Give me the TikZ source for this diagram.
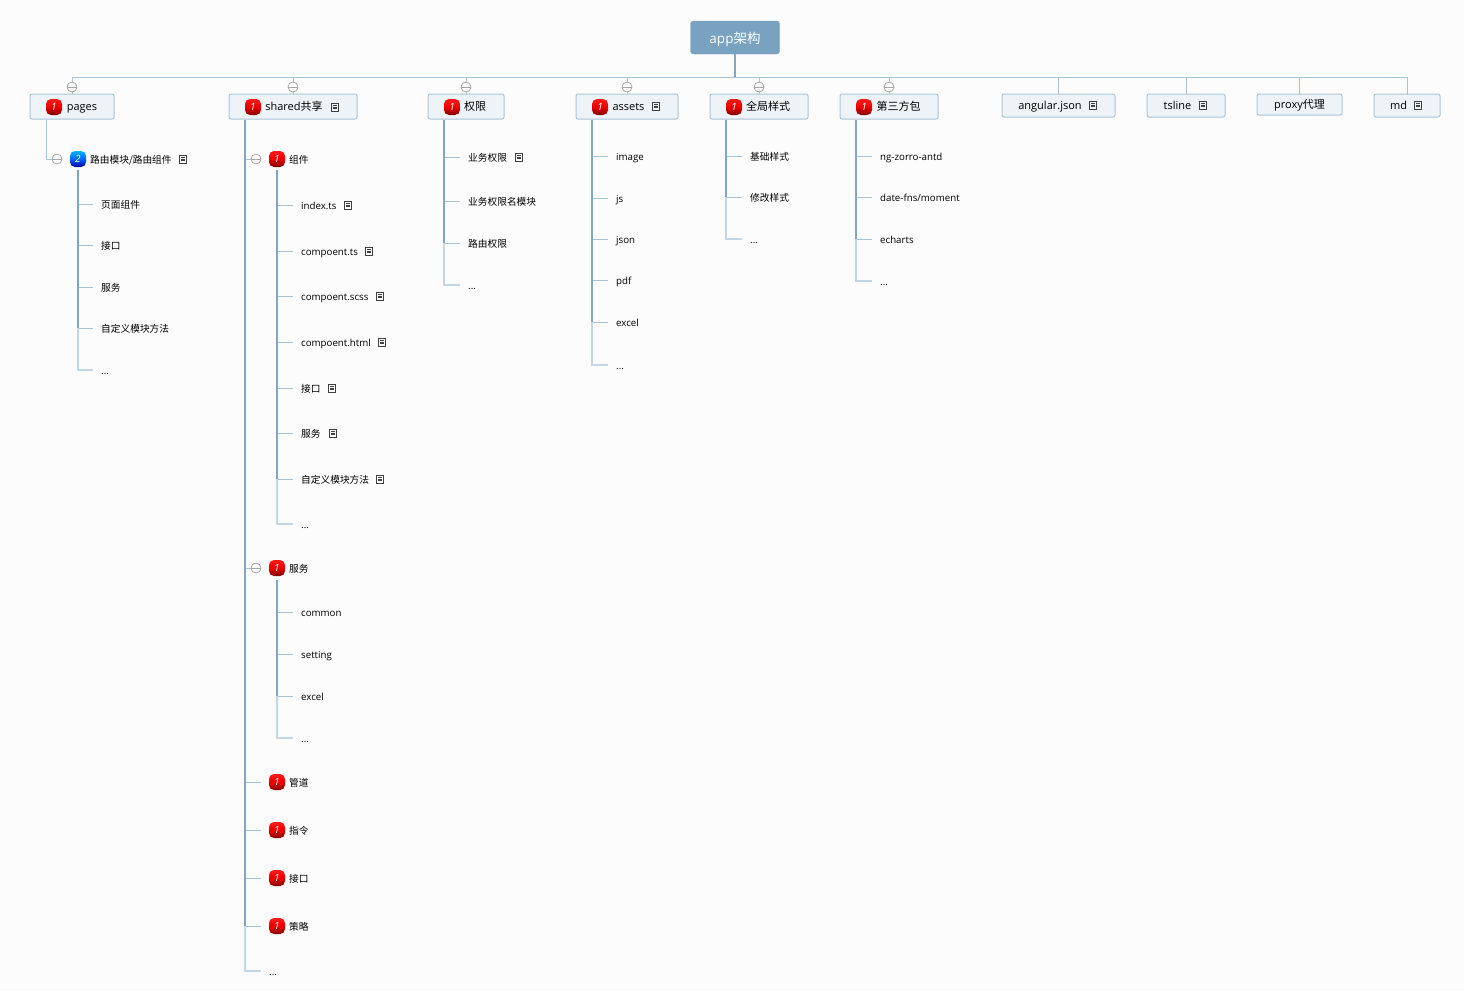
\documentclass[tikz,border=0pt]{standalone}
\usepackage{fontspec}
\setmainfont{Open Sans}
\newfontfamily\cjk{Noto Sans CJK SC}
\newcommand{\zh}[1]{{\cjk #1}}
\newcommand{\etc}{...}
\definecolor{barblue}{HTML}{7FA6C2}
\definecolor{stubblue}{HTML}{A9C3D6}
\definecolor{tailblue}{HTML}{C3D6E3}
\definecolor{rootblue}{HTML}{78A2BF}
\definecolor{boxfill}{HTML}{EEF3F7}
\definecolor{boxline}{HTML}{A9C5DA}
\tikzset{
  rootbox/.style={draw=rootblue, fill=rootblue, rounded corners=3pt, text=white, minimum width=89pt, minimum height=33pt, inner sep=0pt, text height=12pt, text depth=.5pt, font=\fontsize{13.5}{16}\selectfont},
  topic/.style={draw=boxline, line width=1pt, fill=boxfill, rounded corners=2pt, anchor=north west, inner sep=0pt, text height=8pt, text depth=1pt, font=\fontsize{11}{13}\selectfont},
  leaf/.style={anchor=west, inner xsep=8pt, inner ysep=1pt, text height=9pt, text depth=1pt, font=\fontsize{9.7}{12}\selectfont},
  sub/.style={anchor=west, inner sep=0pt, text height=9pt, text depth=1pt, font=\fontsize{9.7}{12}\selectfont},
  stub/.style={draw=stubblue, line width=1pt},
  trunk/.style={draw=barblue, line width=1.5pt},
  tail/.style={draw=tailblue, line width=1.5pt},
  fold/.style={circle, draw=gray!70, fill=white, line width=.8pt, minimum size=10pt, inner sep=0pt, path picture={\draw[gray!70, line width=.8pt] (path picture bounding box.west) -- (path picture bounding box.east);}},
  badge/.style={rounded corners=5pt, minimum size=16pt, inner sep=0pt, text=white, font=\fontsize{10}{10}\selectfont\itshape},
  redbadge/.style={badge, top color=red!90!white, bottom color=red!50!black, middle color=red!92!black},
  bluebadge/.style={badge, top color=blue!30!cyan, bottom color=blue!60!black, middle color=blue!60!cyan},
  notemark/.pic={
    \draw[black!75, line width=.9pt] (-3.5,-4) rectangle (3.5,4);
    \foreach \k in {-1.7,0,1.7} \draw[black!75, line width=.6pt] (-2,\k) -- (2,\k);
  }
}
\begin{document}
\begin{tikzpicture}[x=1pt, y=-1pt]
    \useasboundingbox[fill=white!99!black] (0,0) rectangle (1464,991);

    % Root and first level
    \node[rootbox] (root) at (735,37.5) {app\zh{架构}};
    \coordinate (bar) at (735,77);
    \foreach \nm/\x/\w/\h/\pad/\txt in {
      pages/29.5/84/25/20/pages, shared/228.5/128/25/2/shared\zh{共享}, auth/427.5/76/25/18/\zh{权限},
      assets/575.5/102/25/3/assets, style/709.5/98/25/18/\zh{全局样式}, third/839.5/98/25/19/\zh{第三方包},
      angular/1001.5/113/23/-17/angular.json, tsline/1146.5/78/23/-17/tsline,
      proxy/1256.5/85/21/0/proxy\zh{代理}, md/1373.5/66/23/-17/md}
    {
      \node[topic, minimum width=\w pt, minimum height=\h pt] (\nm) at (\x,93.5) {\hspace*{\pad pt}\txt};
      \draw[stub] (bar) -| (\nm.north);
    }
    \draw[trunk] (root.south) -- (bar);

    % Fold marks
    \foreach \nm in {pages,shared,auth,assets,style,third}
    \node[fold] (\nm F) at ([yshift=6.5pt]\nm.north) {};

    % Trunks under the first level
    \foreach \nm in {pages,shared,auth,assets,style,third}
    \coordinate (\nm T) at ([xshift=16.5pt]\nm.south west);

    % Second level under pages and shared
    \node[sub] (route) at (90,159) {\zh{路由模块/路由组件}};
    \node[fold] (routeF) at (57,159) {};
    \coordinate (routeT) at (78,170);
    \draw[stub] (pagesT) |- (routeF);

    \foreach \nm/\y/\txt in {comp/159/\zh{组件}, serv/568/\zh{服务}, pipe/782/\zh{管道}, dire/830/\zh{指令}, port/878/\zh{接口}, tact/926/\zh{策略}}
    \node[sub] (\nm) at (289,\y) {\txt};
    \node[fold] (compF) at (256,159) {};
    \node[fold] (servF) at (256,568) {};
    \coordinate (compT) at (277,170);
    \coordinate (servT) at (277,580);
    \node[leaf] (sharedEnd) at (261,971) {\etc};
    \draw[stub] (sharedT |- compF) -- (compF);
    \draw[stub] (sharedT |- servF) -- (servF);
    \foreach \nm in {pipe,dire,port,tact}
    \draw[stub] (sharedT |- \nm) -- ++(16,0);
    \draw[tail] (sharedT) |- (sharedEnd.west);
    \draw[trunk] (sharedT) -- (sharedT |- tact);

    % Badges
    \foreach \nm/\x/\y in {pages/54/107, shared/253/107, auth/452/107, assets/600/107, style/734/107, third/864/107,
      comp/277/159, serv/277/568, pipe/277/782, dire/277/830, port/277/878, tact/277/926}
    \node[redbadge] (\nm B) at (\x,\y) {1};
    \node[bluebadge] (routeB) at (78,159) {2};

    % Leaves
    \foreach \y/\txt [count=\i] in {204/\zh{页面组件},245/\zh{接口},287/\zh{服务},328/\zh{自定义模块方法},370/\etc}
    {
      \node[leaf] (a\i) at (93,\y) {\txt};
      \draw[stub] (routeT) |- (a\i.west);
    }
    \draw[tail] (routeT) |- (a5.west);
    \draw[trunk] (routeT) -- (routeT |- a4);

    \foreach \y/\txt [count=\i] in {205/index.ts,251/compoent.ts,296/compoent.scss,342/compoent.html,388/\zh{接口},433/\zh{服务},479/\zh{自定义模块方法},524/\etc}
    {
      \node[leaf] (b\i) at (293,\y) {\txt};
      \draw[stub] (compT) |- (b\i.west);
    }
    \draw[tail] (compT) |- (b8.west);
    \draw[trunk] (compT) -- (compT |- b7);

    \foreach \y/\txt [count=\i] in {612/common,654/setting,696/excel,738/\etc}
    {
      \node[leaf] (c\i) at (293,\y) {\txt};
      \draw[stub] (servT) |- (c\i.west);
    }
    \draw[tail] (servT) |- (c4.west);
    \draw[trunk] (servT) -- (servT |- c3);

    \foreach \y/\txt [count=\i] in {157/\zh{业务权限},201/\zh{业务权限名模块},243/\zh{路由权限},285/\etc}
    {
      \node[leaf] (d\i) at (460,\y) {\txt};
      \draw[stub] (authT) |- (d\i.west);
    }
    \draw[tail] (authT) |- (d4.west);
    \draw[trunk] (authT) -- (authT |- d3);

    \foreach \y/\txt [count=\i] in {156/image,198/js,239/json,280/pdf,322/excel,365/\etc}
    {
      \node[leaf] (e\i) at (608,\y) {\txt};
      \draw[stub] (assetsT) |- (e\i.west);
    }
    \draw[tail] (assetsT) |- (e6.west);
    \draw[trunk] (assetsT) -- (assetsT |- e5);

    \foreach \y/\txt [count=\i] in {156/\zh{基础样式},197/\zh{修改样式},239/\etc}
    {
      \node[leaf] (f\i) at (742,\y) {\txt};
      \draw[stub] (styleT) |- (f\i.west);
    }
    \draw[tail] (styleT) |- (f3.west);
    \draw[trunk] (styleT) -- (styleT |- f2);

    \foreach \y/\txt [count=\i] in {156/ng-zorro-antd,197/{date-fns/moment},239/echarts,281/\etc}
    {
      \node[leaf] (g\i) at (872,\y) {\txt};
      \draw[stub] (thirdT) |- (g\i.west);
    }
    \draw[tail] (thirdT) |- (g4.west);
    \draw[trunk] (thirdT) -- (thirdT |- g3);

    % Note marks
    \foreach \x/\y in {183/159, 335/107, 348/205, 369/251, 380/296, 382/342, 332/388, 333/433, 380/479, 519/157, 656/106, 1093/105, 1203/105, 1418/105}
    \pic at (\x,\y) {notemark};
  \end{tikzpicture}
\end{document}
